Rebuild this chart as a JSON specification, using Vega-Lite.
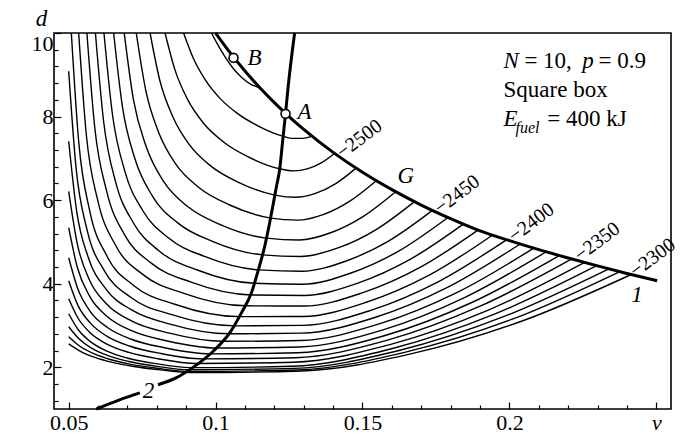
{
  "$schema": "https://vega.github.io/schema/vega-lite/v6.json",
  "width": 617,
  "height": 376,
  "autosize": {"type": "none"},
  "padding": {"left": 54, "top": 33, "right": 12, "bottom": 26},
  "background": "white",
  "config": {
    "view": {"stroke": "black", "strokeWidth": 1.6},
    "font": "Liberation Serif"
  },
  "datasets": {
    "contours": [
      {"level": -2520, "v": 0.0986, "d": 10}, {"level": -2520, "v": 0.1005, "d": 9.75}, {"level": -2520, "v": 0.103, "d": 9.45}, {"level": -2520, "v": 0.106, "d": 9.15}, {"level": -2520, "v": 0.109, "d": 8.93}, {"level": -2520, "v": 0.112, "d": 8.77}, {"level": -2520, "v": 0.1145, "d": 8.7}, {"level": -2520, "v": 0.116, "d": 8.62},
      {"level": -2510, "v": 0.0891, "d": 10}, {"level": -2510, "v": 0.0925, "d": 9.382}, {"level": -2510, "v": 0.0966, "d": 8.865}, {"level": -2510, "v": 0.1015, "d": 8.435}, {"level": -2510, "v": 0.1074, "d": 8.077}, {"level": -2510, "v": 0.1144, "d": 7.779}, {"level": -2510, "v": 0.1229, "d": 7.53}, {"level": -2510, "v": 0.1262, "d": 7.477}, {"level": -2510, "v": 0.1295, "d": 7.477}, {"level": -2510, "v": 0.1328, "d": 7.53},
      {"level": -2500, "v": 0.0828, "d": 10}, {"level": -2500, "v": 0.0862, "d": 9.111}, {"level": -2500, "v": 0.0905, "d": 8.405}, {"level": -2500, "v": 0.0959, "d": 7.841}, {"level": -2500, "v": 0.1027, "d": 7.392}, {"level": -2500, "v": 0.1111, "d": 7.035}, {"level": -2500, "v": 0.1218, "d": 6.75}, {"level": -2500, "v": 0.1265, "d": 6.699}, {"level": -2500, "v": 0.1312, "d": 6.746}, {"level": -2500, "v": 0.1358, "d": 6.886}, {"level": -2500, "v": 0.1405, "d": 7.117},
      {"level": -2490, "v": 0.0777, "d": 10}, {"level": -2490, "v": 0.081, "d": 8.87}, {"level": -2490, "v": 0.0854, "d": 8.002}, {"level": -2490, "v": 0.091, "d": 7.333}, {"level": -2490, "v": 0.0983, "d": 6.819}, {"level": -2490, "v": 0.1078, "d": 6.424}, {"level": -2490, "v": 0.1202, "d": 6.12}, {"level": -2490, "v": 0.1271, "d": 6.067}, {"level": -2490, "v": 0.134, "d": 6.16}, {"level": -2490, "v": 0.1409, "d": 6.395}, {"level": -2490, "v": 0.1478, "d": 6.766},
      {"level": -2480, "v": 0.073, "d": 10}, {"level": -2480, "v": 0.0762, "d": 8.64}, {"level": -2480, "v": 0.0806, "d": 7.625}, {"level": -2480, "v": 0.0864, "d": 6.867}, {"level": -2480, "v": 0.0943, "d": 6.303}, {"level": -2480, "v": 0.1048, "d": 5.883}, {"level": -2480, "v": 0.1188, "d": 5.57}, {"level": -2480, "v": 0.1278, "d": 5.52}, {"level": -2480, "v": 0.1368, "d": 5.659}, {"level": -2480, "v": 0.1457, "d": 5.976}, {"level": -2480, "v": 0.1547, "d": 6.464},
      {"level": -2470, "v": 0.0689, "d": 10}, {"level": -2470, "v": 0.072, "d": 8.42}, {"level": -2470, "v": 0.0764, "d": 7.277}, {"level": -2470, "v": 0.0823, "d": 6.448}, {"level": -2470, "v": 0.0905, "d": 5.845}, {"level": -2470, "v": 0.1018, "d": 5.407}, {"level": -2470, "v": 0.1174, "d": 5.09}, {"level": -2470, "v": 0.1284, "d": 5.046}, {"level": -2470, "v": 0.1394, "d": 5.225}, {"level": -2470, "v": 0.1503, "d": 5.612}, {"level": -2470, "v": 0.1613, "d": 6.2},
      {"level": -2460, "v": 0.0653, "d": 10}, {"level": -2460, "v": 0.0683, "d": 8.231}, {"level": -2460, "v": 0.0726, "d": 6.977}, {"level": -2460, "v": 0.0786, "d": 6.086}, {"level": -2460, "v": 0.0871, "d": 5.455}, {"level": -2460, "v": 0.0991, "d": 5.007}, {"level": -2460, "v": 0.116, "d": 4.69}, {"level": -2460, "v": 0.1289, "d": 4.651}, {"level": -2460, "v": 0.1419, "d": 4.861}, {"level": -2460, "v": 0.1548, "d": 5.301}, {"level": -2460, "v": 0.1677, "d": 5.963},
      {"level": -2450, "v": 0.062, "d": 10}, {"level": -2450, "v": 0.0649, "d": 8.049}, {"level": -2450, "v": 0.0691, "d": 6.693}, {"level": -2450, "v": 0.0752, "d": 5.751}, {"level": -2450, "v": 0.0839, "d": 5.098}, {"level": -2450, "v": 0.0965, "d": 4.645}, {"level": -2450, "v": 0.1146, "d": 4.33}, {"level": -2450, "v": 0.1294, "d": 4.298}, {"level": -2450, "v": 0.1442, "d": 4.537}, {"level": -2450, "v": 0.159, "d": 5.026}, {"level": -2450, "v": 0.1738, "d": 5.754},
      {"level": -2440, "v": 0.0591, "d": 10}, {"level": -2440, "v": 0.0619, "d": 7.875}, {"level": -2440, "v": 0.066, "d": 6.43}, {"level": -2440, "v": 0.0721, "d": 5.446}, {"level": -2440, "v": 0.0809, "d": 4.777}, {"level": -2440, "v": 0.094, "d": 4.321}, {"level": -2440, "v": 0.1131, "d": 4.01}, {"level": -2440, "v": 0.1296, "d": 3.987}, {"level": -2440, "v": 0.1461, "d": 4.255}, {"level": -2440, "v": 0.1626, "d": 4.791}, {"level": -2440, "v": 0.1791, "d": 5.583},
      {"level": -2430, "v": 0.0562, "d": 10}, {"level": -2430, "v": 0.0589, "d": 7.721}, {"level": -2430, "v": 0.063, "d": 6.193}, {"level": -2430, "v": 0.069, "d": 5.174}, {"level": -2430, "v": 0.0781, "d": 4.492}, {"level": -2430, "v": 0.0917, "d": 4.035}, {"level": -2430, "v": 0.112, "d": 3.73}, {"level": -2430, "v": 0.1301, "d": 3.717}, {"level": -2430, "v": 0.1482, "d": 4.009}, {"level": -2430, "v": 0.1662, "d": 4.582}, {"level": -2430, "v": 0.1843, "d": 5.426},
      {"level": -2420, "v": 0.0534, "d": 10}, {"level": -2420, "v": 0.056, "d": 7.564}, {"level": -2420, "v": 0.06, "d": 5.965}, {"level": -2420, "v": 0.066, "d": 4.913}, {"level": -2420, "v": 0.0752, "d": 4.222}, {"level": -2420, "v": 0.0892, "d": 3.768}, {"level": -2420, "v": 0.1104, "d": 3.47}, {"level": -2420, "v": 0.1301, "d": 3.465}, {"level": -2420, "v": 0.1499, "d": 3.78}, {"level": -2420, "v": 0.1696, "d": 4.39}, {"level": -2420, "v": 0.1893, "d": 5.283},
      {"level": -2410, "v": 0.0509, "d": 10}, {"level": -2410, "v": 0.0534, "d": 7.406}, {"level": -2410, "v": 0.0572, "d": 5.731}, {"level": -2410, "v": 0.0631, "d": 4.65}, {"level": -2410, "v": 0.0722, "d": 3.952}, {"level": -2410, "v": 0.0864, "d": 3.501}, {"level": -2410, "v": 0.1083, "d": 3.21}, {"level": -2410, "v": 0.1298, "d": 3.214}, {"level": -2410, "v": 0.1513, "d": 3.555}, {"level": -2410, "v": 0.1727, "d": 4.204}, {"level": -2410, "v": 0.1942, "d": 5.16},
      {"level": -2400, "v": 0.05, "d": 9.085}, {"level": -2400, "v": 0.0525, "d": 6.776}, {"level": -2400, "v": 0.0563, "d": 5.274}, {"level": -2400, "v": 0.0622, "d": 4.3}, {"level": -2400, "v": 0.0712, "d": 3.668}, {"level": -2400, "v": 0.0851, "d": 3.257}, {"level": -2400, "v": 0.1066, "d": 2.99}, {"level": -2400, "v": 0.1297, "d": 3.001}, {"level": -2400, "v": 0.1528, "d": 3.361}, {"level": -2400, "v": 0.1759, "d": 4.05}, {"level": -2400, "v": 0.199, "d": 5.05},
      {"level": -2390, "v": 0.05, "d": 7.41}, {"level": -2390, "v": 0.0527, "d": 5.741}, {"level": -2390, "v": 0.0567, "d": 4.62}, {"level": -2390, "v": 0.0627, "d": 3.869}, {"level": -2390, "v": 0.0716, "d": 3.365}, {"level": -2390, "v": 0.0848, "d": 3.027}, {"level": -2390, "v": 0.1046, "d": 2.8}, {"level": -2390, "v": 0.1294, "d": 2.815}, {"level": -2390, "v": 0.1542, "d": 3.19}, {"level": -2390, "v": 0.1789, "d": 3.91}, {"level": -2390, "v": 0.2037, "d": 4.95},
      {"level": -2380, "v": 0.05, "d": 6.21}, {"level": -2380, "v": 0.0529, "d": 4.962}, {"level": -2380, "v": 0.057, "d": 4.1}, {"level": -2380, "v": 0.063, "d": 3.506}, {"level": -2380, "v": 0.0717, "d": 3.097}, {"level": -2380, "v": 0.0843, "d": 2.815}, {"level": -2380, "v": 0.1025, "d": 2.62}, {"level": -2380, "v": 0.129, "d": 2.64}, {"level": -2380, "v": 0.1554, "d": 3.03}, {"level": -2380, "v": 0.1819, "d": 3.78}, {"level": -2380, "v": 0.2083, "d": 4.85},
      {"level": -2370, "v": 0.05, "d": 5.34}, {"level": -2370, "v": 0.053, "d": 4.374}, {"level": -2370, "v": 0.0572, "d": 3.69}, {"level": -2370, "v": 0.0632, "d": 3.209}, {"level": -2370, "v": 0.0716, "d": 2.869}, {"level": -2370, "v": 0.0836, "d": 2.629}, {"level": -2370, "v": 0.1006, "d": 2.46}, {"level": -2370, "v": 0.1286, "d": 2.484}, {"level": -2370, "v": 0.1567, "d": 2.887}, {"level": -2370, "v": 0.1847, "d": 3.665}, {"level": -2370, "v": 0.2127, "d": 4.77},
      {"level": -2360, "v": 0.05, "d": 4.62}, {"level": -2360, "v": 0.0531, "d": 3.877}, {"level": -2360, "v": 0.0573, "d": 3.339}, {"level": -2360, "v": 0.0632, "d": 2.951}, {"level": -2360, "v": 0.0713, "d": 2.67}, {"level": -2360, "v": 0.0826, "d": 2.467}, {"level": -2360, "v": 0.0982, "d": 2.32}, {"level": -2360, "v": 0.1279, "d": 2.346}, {"level": -2360, "v": 0.1577, "d": 2.76}, {"level": -2360, "v": 0.1874, "d": 3.555}, {"level": -2360, "v": 0.2171, "d": 4.68},
      {"level": -2350, "v": 0.05, "d": 4.07}, {"level": -2350, "v": 0.0531, "d": 3.487}, {"level": -2350, "v": 0.0574, "d": 3.056}, {"level": -2350, "v": 0.0631, "d": 2.738}, {"level": -2350, "v": 0.0709, "d": 2.502}, {"level": -2350, "v": 0.0814, "d": 2.328}, {"level": -2350, "v": 0.0956, "d": 2.2}, {"level": -2350, "v": 0.1271, "d": 2.228}, {"level": -2350, "v": 0.1585, "d": 2.648}, {"level": -2350, "v": 0.19, "d": 3.46}, {"level": -2350, "v": 0.2214, "d": 4.6},
      {"level": -2340, "v": 0.05, "d": 3.64}, {"level": -2340, "v": 0.0532, "d": 3.172}, {"level": -2340, "v": 0.0574, "d": 2.819}, {"level": -2340, "v": 0.063, "d": 2.554}, {"level": -2340, "v": 0.0705, "d": 2.354}, {"level": -2340, "v": 0.0804, "d": 2.203}, {"level": -2340, "v": 0.0935, "d": 2.09}, {"level": -2340, "v": 0.1265, "d": 2.12}, {"level": -2340, "v": 0.1596, "d": 2.546}, {"level": -2340, "v": 0.1926, "d": 3.36}, {"level": -2340, "v": 0.2256, "d": 4.51},
      {"level": -2330, "v": 0.05, "d": 3.28}, {"level": -2330, "v": 0.0532, "d": 2.903}, {"level": -2330, "v": 0.0574, "d": 2.613}, {"level": -2330, "v": 0.0628, "d": 2.391}, {"level": -2330, "v": 0.0699, "d": 2.221}, {"level": -2330, "v": 0.0792, "d": 2.091}, {"level": -2330, "v": 0.0913, "d": 1.99}, {"level": -2330, "v": 0.1259, "d": 2.022}, {"level": -2330, "v": 0.1605, "d": 2.453}, {"level": -2330, "v": 0.1951, "d": 3.275}, {"level": -2330, "v": 0.2297, "d": 4.43},
      {"level": -2320, "v": 0.05, "d": 2.97}, {"level": -2320, "v": 0.0535, "d": 2.682}, {"level": -2320, "v": 0.0578, "d": 2.456}, {"level": -2320, "v": 0.0634, "d": 2.277}, {"level": -2320, "v": 0.0705, "d": 2.137}, {"level": -2320, "v": 0.0795, "d": 2.027}, {"level": -2320, "v": 0.091, "d": 1.94}, {"level": -2320, "v": 0.1267, "d": 1.973}, {"level": -2320, "v": 0.1624, "d": 2.4}, {"level": -2320, "v": 0.198, "d": 3.21}, {"level": -2320, "v": 0.2337, "d": 4.35},
      {"level": -2310, "v": 0.05, "d": 2.73}, {"level": -2310, "v": 0.0537, "d": 2.508}, {"level": -2310, "v": 0.0584, "d": 2.329}, {"level": -2310, "v": 0.0641, "d": 2.185}, {"level": -2310, "v": 0.0712, "d": 2.069}, {"level": -2310, "v": 0.0801, "d": 1.975}, {"level": -2310, "v": 0.091, "d": 1.9}, {"level": -2310, "v": 0.1277, "d": 1.935}, {"level": -2310, "v": 0.1643, "d": 2.357}, {"level": -2310, "v": 0.201, "d": 3.15}, {"level": -2310, "v": 0.2376, "d": 4.29},
      {"level": -2300, "v": 0.05, "d": 2.56}, {"level": -2300, "v": 0.054, "d": 2.382}, {"level": -2300, "v": 0.0589, "d": 2.235}, {"level": -2300, "v": 0.0649, "d": 2.115}, {"level": -2300, "v": 0.0722, "d": 2.017}, {"level": -2300, "v": 0.0811, "d": 1.936}, {"level": -2300, "v": 0.092, "d": 1.87}, {"level": -2300, "v": 0.1294, "d": 1.91}, {"level": -2300, "v": 0.1668, "d": 2.325}, {"level": -2300, "v": 0.2041, "d": 3.1}, {"level": -2300, "v": 0.2415, "d": 4.22}
    ],
    "curve1": [
      {"v": 0.1, "d": 10}, {"v": 0.105, "d": 9.524}, {"v": 0.11, "d": 9.091}, {"v": 0.115, "d": 8.696}, {"v": 0.12, "d": 8.333}, {"v": 0.125, "d": 8.0}, {"v": 0.13, "d": 7.692}, {"v": 0.14, "d": 7.143}, {"v": 0.15, "d": 6.667}, {"v": 0.16, "d": 6.25}, {"v": 0.17, "d": 5.882}, {"v": 0.18, "d": 5.556}, {"v": 0.19, "d": 5.263}, {"v": 0.2, "d": 5.03}, {"v": 0.21, "d": 4.815}, {"v": 0.22, "d": 4.615}, {"v": 0.23, "d": 4.425}, {"v": 0.24, "d": 4.245}, {"v": 0.2503, "d": 4.07}
    ],
    "curve2": [
      {"seg": "upper", "v": 0.0804, "d": 1.58}, {"seg": "upper", "v": 0.0867, "d": 1.75}, {"seg": "upper", "v": 0.0922, "d": 1.99}, {"seg": "upper", "v": 0.099, "d": 2.37}, {"seg": "upper", "v": 0.1048, "d": 2.82}, {"seg": "upper", "v": 0.1088, "d": 3.3}, {"seg": "upper", "v": 0.1122, "d": 3.78}, {"seg": "upper", "v": 0.1146, "d": 4.34}, {"seg": "upper", "v": 0.1167, "d": 4.89}, {"seg": "upper", "v": 0.1184, "d": 5.46}, {"seg": "upper", "v": 0.1197, "d": 5.94}, {"seg": "upper", "v": 0.1207, "d": 6.32}, {"seg": "upper", "v": 0.1218, "d": 6.73}, {"seg": "upper", "v": 0.1228, "d": 7.4}, {"seg": "upper", "v": 0.1238, "d": 8.065}, {"seg": "upper", "v": 0.1246, "d": 8.65}, {"seg": "upper", "v": 0.1269, "d": 10},
      {"seg": "lower", "v": 0.0594, "d": 1.0}, {"seg": "lower", "v": 0.0673, "d": 1.22}, {"seg": "lower", "v": 0.0742, "d": 1.385}
    ],
    "points": [
      {"name": "A", "v": 0.1238, "d": 8.065},
      {"name": "B", "v": 0.1061, "d": 9.406}
    ],
    "levelLabels": [
      {"text": "−2500", "v": 0.142, "d": 7.09},
      {"text": "−2450", "v": 0.1752, "d": 5.76},
      {"text": "−2400", "v": 0.2005, "d": 5.09},
      {"text": "−2350", "v": 0.2229, "d": 4.63},
      {"text": "−2300", "v": 0.2418, "d": 4.25}
    ],
    "italicLabels": [
      {"text": "A", "v": 0.1279, "d": 7.93},
      {"text": "B", "v": 0.1109, "d": 9.245},
      {"text": "G", "v": 0.1619, "d": 6.419},
      {"text": "1", "v": 0.2415, "d": 3.569},
      {"text": "2", "v": 0.0752, "d": 1.269},
      {"text": "d", "v": 0.0388, "d": 10.163},
      {"text": "N", "v": 0.198, "d": 9.166},
      {"text": "p", "v": 0.2248, "d": 9.166},
      {"text": "E", "v": 0.198, "d": 7.784}
    ],
    "romanLabels": [
      {"text": "= 10,", "v": 0.2051, "d": 9.166},
      {"text": "= 0.9", "v": 0.2303, "d": 9.166},
      {"text": "Square box", "v": 0.198, "d": 8.472},
      {"text": "= 400 kJ", "v": 0.2129, "d": 7.784}
    ],
    "subLabels": [
      {"text": "fuel", "v": 0.2021, "d": 7.61}
    ]
  },
  "encoding": {
    "x": {
      "field": "v", "type": "quantitative",
      "scale": {"domain": [0.045, 0.255], "nice": false, "zero": false},
      "axis": {
        "title": null, "domain": false, "grid": false,
        "values": [0.05, 0.06, 0.07, 0.08, 0.09, 0.1, 0.11, 0.12, 0.13, 0.14, 0.15, 0.16, 0.17, 0.18, 0.19, 0.2, 0.21, 0.22, 0.23, 0.24, 0.25],
        "tickColor": "black", "tickWidth": 1.2,
        "tickSize": {"condition": {"test": "abs(datum.value * 20 - round(datum.value * 20)) < 0.001", "value": -7}, "value": -4},
        "labelExpr": "abs(datum.value * 20 - round(datum.value * 20)) < 0.001 ? (datum.value > 0.24 ? 'ν' : format(datum.value, '~g')) : ''",
        "labelFont": "Liberation Serif", "labelFontSize": 22, "labelColor": "black",
        "labelFontStyle": {"condition": {"test": "datum.value > 0.24", "value": "italic"}, "value": "normal"},
        "labelPadding": 10, "labelFlush": false, "labelOverlap": false, "labelBound": false
      }
    },
    "y": {
      "field": "d", "type": "quantitative",
      "scale": {"domain": [1, 10], "nice": false, "zero": false},
      "axis": {
        "title": null, "domain": false, "grid": false,
        "values": [1.2, 1.6, 2, 2.4, 2.8, 3.2, 3.6, 4, 4.4, 4.8, 5.2, 5.6, 6, 6.4, 6.8, 7.2, 7.6, 8, 8.4, 8.8, 9.2, 9.6, 10],
        "tickColor": "black", "tickWidth": 1.2,
        "tickSize": {"condition": {"test": "abs(datum.value / 2 - round(datum.value / 2)) < 0.001", "value": -7}, "value": -4},
        "labelExpr": "abs(datum.value / 2 - round(datum.value / 2)) < 0.001 ? format(datum.value, 'd') : ''",
        "labelFont": "Liberation Serif", "labelFontSize": 22, "labelColor": "black",
        "labelBaseline": {"condition": {"test": "datum.value > 9.9", "value": "top"}, "value": "middle"},
        "labelPadding": 8, "labelFlush": false, "labelOverlap": false, "labelBound": false
      }
    }
  },
  "layer": [
    {
      "data": {"name": "contours"},
      "mark": {"type": "line", "interpolate": "monotone", "stroke": "black", "strokeWidth": 1.4},
      "encoding": {"detail": {"field": "level", "type": "nominal"}}
    },
    {
      "data": {"name": "curve1"},
      "mark": {"type": "line", "interpolate": "monotone", "stroke": "black", "strokeWidth": 3},
      "encoding": {}
    },
    {
      "data": {"name": "curve2"},
      "mark": {"type": "line", "interpolate": "monotone", "stroke": "black", "strokeWidth": 3},
      "encoding": {"detail": {"field": "seg", "type": "nominal"}}
    },
    {
      "data": {"name": "points"},
      "mark": {"type": "point", "shape": "circle", "filled": true, "fill": "white", "stroke": "black", "strokeWidth": 1.6, "size": 80, "opacity": 1}
    },
    {
      "data": {"name": "levelLabels"},
      "mark": {"type": "text", "font": "Liberation Serif", "fontSize": 20, "angle": 323, "align": "left", "baseline": "middle", "fill": "black"},
      "encoding": {"text": {"field": "text", "type": "nominal"}}
    },
    {
      "data": {"name": "italicLabels"},
      "mark": {"type": "text", "font": "Liberation Serif", "fontSize": 23, "fontStyle": "italic", "align": "left", "baseline": "alphabetic", "fill": "black"},
      "encoding": {"text": {"field": "text", "type": "nominal"}}
    },
    {
      "data": {"name": "romanLabels"},
      "mark": {"type": "text", "font": "Liberation Serif", "fontSize": 23, "align": "left", "baseline": "alphabetic", "fill": "black"},
      "encoding": {"text": {"field": "text", "type": "nominal"}}
    },
    {
      "data": {"name": "subLabels"},
      "mark": {"type": "text", "font": "Liberation Serif", "fontSize": 16, "fontStyle": "italic", "align": "left", "baseline": "alphabetic", "fill": "black"},
      "encoding": {"text": {"field": "text", "type": "nominal"}}
    }
  ]
}
